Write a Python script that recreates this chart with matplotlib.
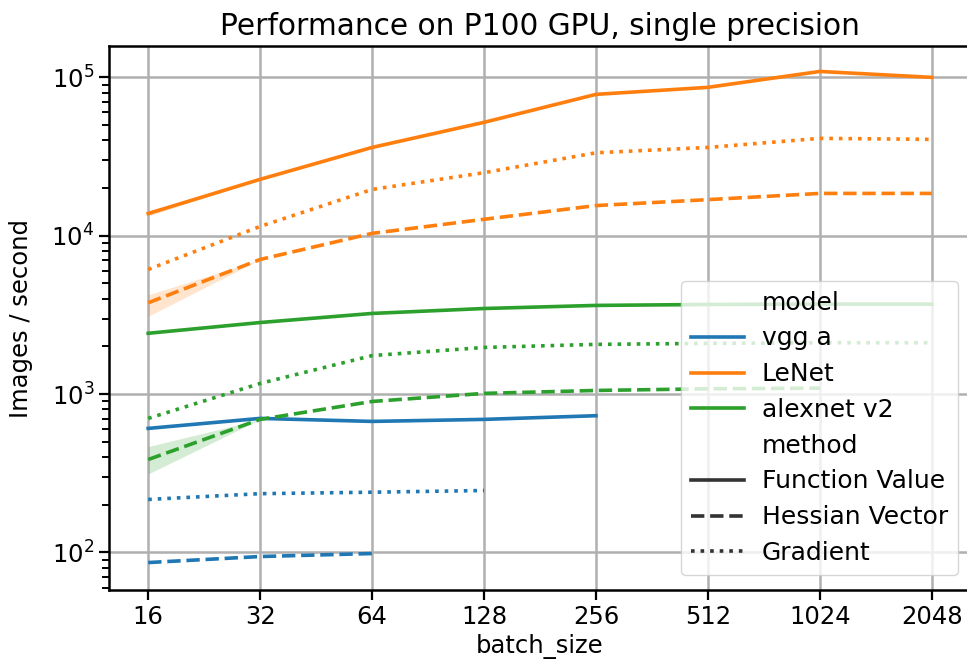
import numpy as np
from matplotlib import pyplot as plt
from matplotlib.lines import Line2D
from matplotlib.ticker import NullLocator

plt.rcParams['font.family'] = ['DejaVu Sans']

batch_size = [16, 32, 64, 128, 256, 512, 1024, 2048]
tick_labels = ["16", "32", "64", "128", "256", "512", "1024", "2048"]

# LeNet
lenet_fv = [13800, 22700, 36100, 52000, 78100, 86500, 109000, 100000]
lenet_hv = [3770, 7080, 10350, 12700, 15500, 16900, 18500, 18500]
lenet_grad = [6120, 11450, 19600, 25000, 33400, 36100, 41200, 40600]

# alexnet v2
alex_fv = [2420, 2830, 3230, 3470, 3630, 3680, 3700, 3700]
alex_hv = [386, 692, 898, 1010, 1054, 1080, 1090]
alex_grad = [702, 1167, 1750, 1970, 2060, 2090, 2110, 2110]

# vgg a
vgg_fv = [607, 702, 672, 692, 730]
vgg_hv = [86.3, 94.2, 98.4]
vgg_grad = [216, 235, 240, 246]

# confidence bands (only visible at the first batch size)
lenet_fv_lo = [13300, 22700]
lenet_fv_hi = [14400, 22700]
lenet_hv_lo = [3100, 7080]
lenet_hv_hi = [4230, 7080]
alex_hv_lo = [313, 692]
alex_hv_hi = [466, 692]

blue = "#1f77b4"
orange = "#ff7f0e"
green = "#2ca02c"
fs = 17.5

fig = plt.figure(figsize=(9.67, 6.62), dpi=100)
ax = fig.add_axes([109 / 967, 1 - 590 / 662, (971 - 109) / 967, (590 - 46) / 662])

lw = 2.6
series = [
    (vgg_fv, blue, "-"), (vgg_hv, blue, "--"), (vgg_grad, blue, ":"),
    (lenet_fv, orange, "-"), (lenet_hv, orange, "--"), (lenet_grad, orange, ":"),
    (alex_fv, green, "-"), (alex_hv, green, "--"), (alex_grad, green, ":"),
]
for vals, c, ls in series:
    ax.plot(batch_size[:len(vals)], vals, color=c, ls=ls, lw=lw, zorder=3)

ax.fill_between(batch_size[:2], lenet_fv_lo, lenet_fv_hi, color=orange, alpha=0.2, lw=0)
ax.fill_between(batch_size[:2], lenet_hv_lo, lenet_hv_hi, color=orange, alpha=0.2, lw=0)
ax.fill_between(batch_size[:2], alex_hv_lo, alex_hv_hi, color=green, alpha=0.2, lw=0)

ylo, yhi = 57.9, 157800
ax.set_yscale("log")
ax.set_xscale("log", base=2)
ax.set_xticks(batch_size)
ax.set_xticklabels(tick_labels)
ax.xaxis.set_minor_locator(NullLocator())
decades = [10.0 ** e for e in range(1, 6)]
ax.set_yticks(decades[1:])
minor_y = [d * m for d in decades for m in range(2, 10) if ylo <= d * m <= yhi]
ax.set_yticks(minor_y, minor=True)
ax.set_xlim(2 ** 3.65, 2 ** 11.35)
ax.set_ylim(ylo, yhi)

ax.grid(True, which="major", color="#b0b0b0", lw=1.8)
ax.set_axisbelow(True)
for s in ax.spines.values():
    s.set_linewidth(1.8)
ax.tick_params(which="major", length=7, width=1.6, labelsize=fs)
ax.tick_params(axis="y", which="minor", length=5, width=1.4, color="black",
               left=True, labelleft=False)

ax.set_xlabel("batch_size", fontsize=fs)
ax.set_ylabel("Images / second", fontsize=fs, labelpad=13)
ax.set_title("Performance on P100 GPU, single precision", fontsize=21.3, pad=8)

blank = Line2D([], [], color="none")
handles = [
    blank,
    Line2D([], [], color=blue, lw=lw),
    Line2D([], [], color=orange, lw=lw),
    Line2D([], [], color=green, lw=lw),
    blank,
    Line2D([], [], color="#333333", lw=lw, ls="-"),
    Line2D([], [], color="#333333", lw=lw, ls="--"),
    Line2D([], [], color="#333333", lw=lw, ls=":"),
]
labels = ["model", "vgg a", "LeNet", "alexnet v2", "method",
          "Function Value", "Hessian Vector", "Gradient"]
ax.legend(handles, labels, loc="lower right", bbox_to_anchor=(958 / 967, 1 - 575 / 662),
          bbox_transform=fig.transFigure, borderaxespad=0, fontsize=18,
          labelspacing=0.47, handlelength=2.1, handletextpad=0.72,
          framealpha=0.8, edgecolor="#cccccc")

fig.savefig("out.png", dpi=100)
